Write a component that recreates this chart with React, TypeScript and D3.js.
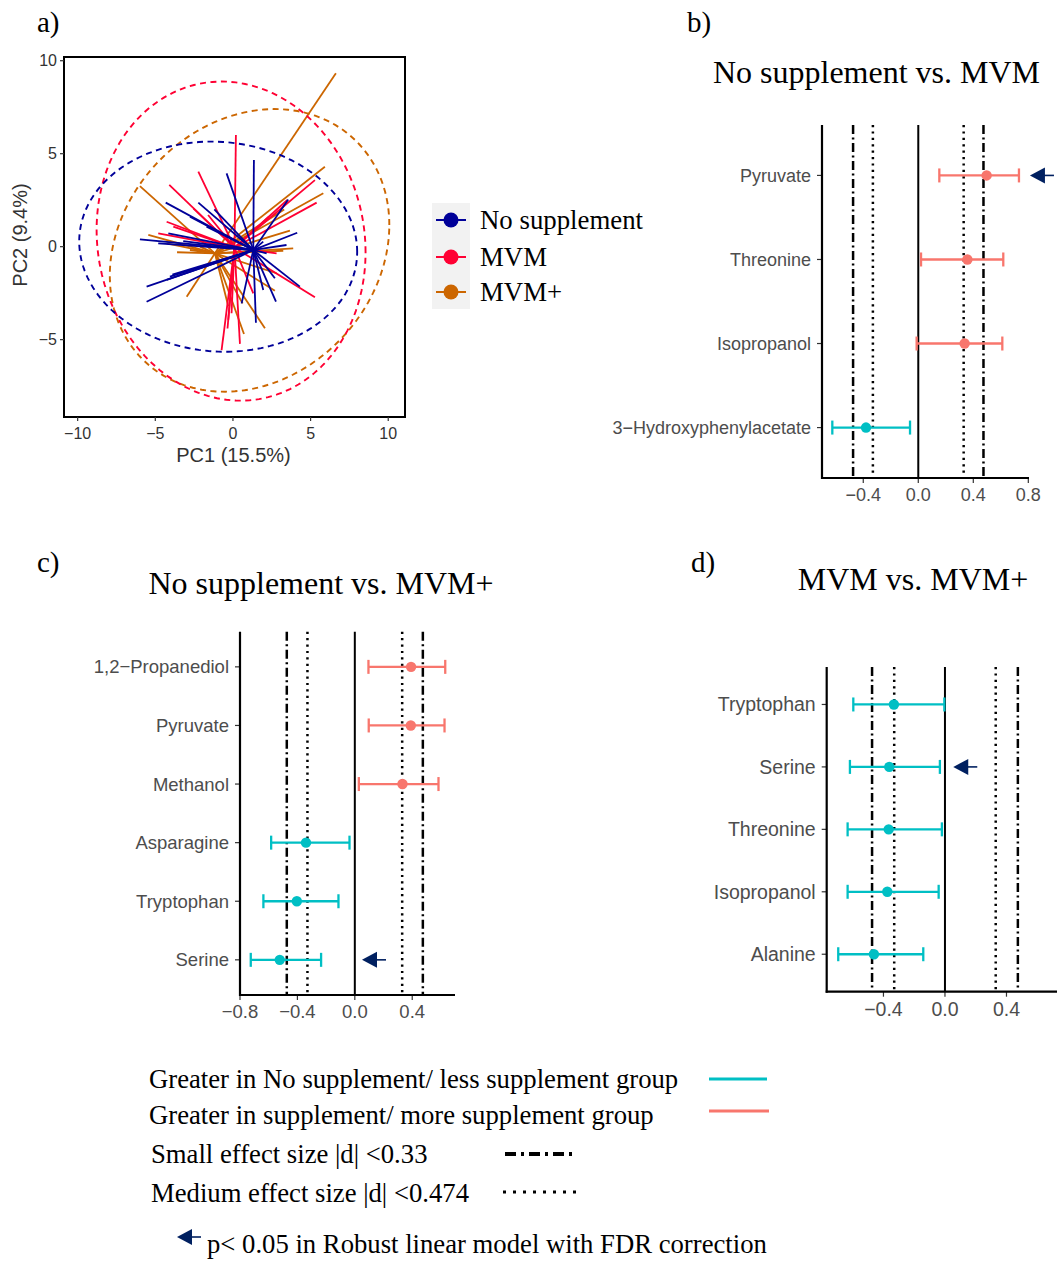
import React from "react";
import * as d3 from "d3";

const SANS = "'Liberation Sans', Arial, Helvetica, sans-serif";
const SERIF = "'Liberation Serif', 'Times New Roman', Times, serif";

// ---------- Panel a: PCA spider plot ----------
const pcaGroups = ["No supplement", "MVM", "MVM+"];
const pcaColors = ["#000099", "#ff0033", "#cc6600"];

const noSuppScores: [number, number][] = [
  [-5.99, 0.39], [-5.56, -2.15], [-5.56, -2.96], [-4.33, 2.37], [-2.23, 2.37],
  [-0.41, 3.94], [1.35, 4.66], [3.56, 2.54], [4.14, 0.75], [3.45, 0.09],
  [4.31, -2.15], [2.77, -2.96], [1.48, -4.09], [0.56, -3.05], [1.95, -2.33],
  [2.7, -1.7], [-4.06, -1.61], [-4.27, -1.79], [-4.81, 0.18], [-4.16, 0.72],
  [-2.77, 1.61], [-1.7, 1.08], [1.95, 0.27], [2.17, -0.36], [-3.9, -1.5],
  [-3.2, 0.3], [-1.2, 2.0],
];
const mvmScores: [number, number][] = [
  [0.19, 6.0], [-2.23, 4.03], [-4.1, 3.32], [-4.27, 1.34], [-2.55, 2.06],
  [5.28, 3.58], [5.39, 2.37], [3.5, 2.51], [5.28, -2.72], [-0.73, -5.56],
  [0.45, -5.23], [-0.3, -3.94], [-0.09, -3.58], [1.31, -2.51], [-4.81, 0.72],
  [-3.84, 1.08], [2.81, -0.36], [-0.35, -4.4], [2.3, 1.6], [-1.6, 1.7],
];
const mvmPlusScores: [number, number][] = [
  [6.63, 9.32], [5.92, 4.3], [5.82, 2.87], [-5.99, 3.26], [-5.45, 0.63],
  [-2.98, -2.69], [0.71, -4.7], [2.06, -4.39], [0.62, -3.05], [2.7, -2.37],
  [3.88, -0.09], [3.67, 0.86], [3.24, -0.22], [-2.77, -0.18], [-4.27, 0.18],
  [-2.12, 0.0], [2.81, -1.43], [3.3, 2.0], [-3.6, -0.3], [-0.3, -3.2],
];
const groupScores = [noSuppScores, mvmScores, mvmPlusScores];
const groupCentroids: [number, number][] = [[1.31, -0.18], [0.1, -0.05], [-1.16, -0.36]];

// confidence ellipses: centre, half-range in PC1, half-range in PC2, coupling cos
const ellipseCenters: [number, number][] = [[-0.95, 0.0], [-0.12, 0.3], [1.07, -0.2]];
const ellipseHalfPC1 = [8.95, 8.66, 9.0];
const ellipseHalfPC2 = [5.65, 8.58, 7.6];
const ellipseCoupling = [-0.05, -0.07, 0.18];

const pcaXTicks = [-10, -5, 0, 5, 10];
const pcaYTicks = [-5, 0, 5, 10];

// ---------- Panels b-d: effect sizes ----------
const smallEffect = 0.474; // dash-dot
const mediumEffect = 0.33; // dotted

const bCats = ["Pyruvate", "Threonine", "Isopropanol", "3\u2212Hydroxyphenylacetate"];
const bEst = [0.497, 0.357, 0.337, -0.38];
const bLow = [0.153, 0.02, -0.012, -0.625];
const bHigh = [0.732, 0.618, 0.611, -0.06];
const bSig = [true, false, false, false];
const bTicks = [-0.4, 0, 0.4, 0.8];

const cCats = ["1,2\u2212Propanediol", "Pyruvate", "Methanol", "Asparagine", "Tryptophan", "Serine"];
const cEst = [0.392, 0.39, 0.332, -0.34, -0.404, -0.523];
const cLow = [0.095, 0.097, 0.028, -0.583, -0.637, -0.725];
const cHigh = [0.63, 0.625, 0.583, -0.037, -0.114, -0.235];
const cSig = [false, false, false, false, false, true];
const cTicks = [-0.8, -0.4, 0, 0.4];

const dCats = ["Tryptophan", "Serine", "Threonine", "Isopropanol", "Alanine"];
const dEst = [-0.332, -0.362, -0.366, -0.375, -0.462];
const dLow = [-0.596, -0.618, -0.633, -0.633, -0.694];
const dHigh = [-0.004, -0.033, -0.02, -0.041, -0.141];
const dSig = [false, true, false, false, false];
const dTicks = [-0.4, 0, 0.4];

const POS_COL = "#F8766D";
const NEG_COL = "#00BFC4";
const ARROW_COL = "#002060";

const fmtTick = (v: number) => (v < 0 ? "\u2212" : "") + Math.abs(v).toFixed(1);

function SigArrow({ x, y }: { x: number; y: number }) {
  return (
    <g>
      <path d={`M${x},${y} L${x + 15},${y - 8} L${x + 15},${y + 8} Z`} fill={ARROW_COL} />
      <line x1={x + 12} x2={x + 24} y1={y} y2={y} stroke={ARROW_COL} strokeWidth={1.6} />
    </g>
  );
}

type ForestProps = {
  cats: string[];
  est: number[];
  low: number[];
  high: number[];
  sig: boolean[];
  arrowAt: number;
  domain: [number, number];
  xRange: [number, number];
  yRange: [number, number];
  ticks: number[];
  fontSize: number;
};

function ForestPanel(p: ForestProps) {
  const x = d3.scaleLinear().domain(p.domain).range(p.xRange);
  const y = d3.scalePoint<string>().domain(p.cats).range(p.yRange).padding(0.6);
  const [top, bottom] = p.yRange;
  const left = p.xRange[0];
  const refLines = [
    { v: -smallEffect, dash: "9,3.5,2,3.5" },
    { v: -mediumEffect, dash: "2.2,4.2" },
    { v: mediumEffect, dash: "2.2,4.2" },
    { v: smallEffect, dash: "9,3.5,2,3.5" },
  ];
  const capH = 7;
  return (
    <g>
      {refLines.map((r, i) => (
        <line key={i} x1={x(r.v)} x2={x(r.v)} y1={top} y2={bottom} stroke="#000" strokeWidth={2.5} strokeDasharray={r.dash} />
      ))}
      <line x1={x(0)} x2={x(0)} y1={top} y2={bottom} stroke="#000" strokeWidth={2} />
      {p.cats.map((c, i) => {
        const col = p.est[i] >= 0 ? POS_COL : NEG_COL;
        const cy = y(c) as number;
        return (
          <g key={c}>
            <line x1={x(p.low[i])} x2={x(p.high[i])} y1={cy} y2={cy} stroke={col} strokeWidth={2.3} />
            <line x1={x(p.low[i])} x2={x(p.low[i])} y1={cy - capH} y2={cy + capH} stroke={col} strokeWidth={2.3} />
            <line x1={x(p.high[i])} x2={x(p.high[i])} y1={cy - capH} y2={cy + capH} stroke={col} strokeWidth={2.3} />
            <circle cx={x(p.est[i])} cy={cy} r={5.2} fill={col} />
            {p.sig[i] && <SigArrow x={x(p.arrowAt)} y={cy} />}
            <line x1={left - 5} x2={left} y1={cy} y2={cy} stroke="#333" strokeWidth={1.2} />
            <text x={left - 11} y={cy} dy="0.35em" textAnchor="end" fontFamily={SANS} fontSize={p.fontSize} fill="#4d4d4d">
              {c}
            </text>
          </g>
        );
      })}
      {p.ticks.map((t) => (
        <g key={t}>
          <line x1={x(t)} x2={x(t)} y1={bottom} y2={bottom + 5} stroke="#333" strokeWidth={1.2} />
          <text x={x(t)} y={bottom + 17} dy="0.35em" textAnchor="middle" fontFamily={SANS} fontSize={p.fontSize} fill="#4d4d4d">
            {fmtTick(t)}
          </text>
        </g>
      ))}
      <line x1={left} x2={left} y1={top} y2={bottom + 1} stroke="#000" strokeWidth={2.2} />
      <line x1={left - 1} x2={p.xRange[1]} y1={bottom} y2={bottom} stroke="#000" strokeWidth={2.2} />
    </g>
  );
}

function PcaPanel() {
  const left = 64, right = 405, top = 57, bottom = 417;
  const x = d3.scaleLinear().domain([-10.88, 11.08]).range([left, right]);
  const y = d3.scaleLinear().domain([-9.16, 10.2]).range([bottom, top]);
  const ellipseLine = d3
    .line<[number, number]>()
    .x((d) => x(d[0]))
    .y((d) => y(d[1]))
    .curve(d3.curveLinearClosed);
  const ellipsePath = (g: number) => {
    const delta = Math.acos(ellipseCoupling[g]);
    const pts: [number, number][] = d3.range(0, 2 * Math.PI, Math.PI / 90).map((t) => [
      ellipseCenters[g][0] + ellipseHalfPC1[g] * Math.cos(t),
      ellipseCenters[g][1] + ellipseHalfPC2[g] * Math.cos(t - delta),
    ]);
    return ellipseLine(pts) || "";
  };
  const drawOrder = [2, 1, 0];
  return (
    <g>
      <defs>
        <clipPath id="pca-clip">
          <rect x={left} y={top} width={right - left} height={bottom - top} />
        </clipPath>
      </defs>
      <g clipPath="url(#pca-clip)">
        {drawOrder.map((g) => (
          <g key={g}>
            {groupScores[g].map((s, i) => (
              <line
                key={i}
                x1={x(s[0])}
                y1={y(s[1])}
                x2={x(groupCentroids[g][0])}
                y2={y(groupCentroids[g][1])}
                stroke={pcaColors[g]}
                strokeWidth={1.8}
              />
            ))}
          </g>
        ))}
        {drawOrder.map((g) => (
          <path key={"e" + g} d={ellipsePath(g)} fill="none" stroke={pcaColors[g]} strokeWidth={1.9} strokeDasharray="6,4.5" />
        ))}
      </g>
      <rect x={left} y={top} width={right - left} height={bottom - top} fill="none" stroke="#000" strokeWidth={2} />
      {pcaXTicks.map((t) => (
        <g key={t}>
          <line x1={x(t)} x2={x(t)} y1={bottom} y2={bottom + 4} stroke="#333" strokeWidth={1.2} />
          <text x={x(t)} y={bottom + 16} dy="0.35em" textAnchor="middle" fontFamily={SANS} fontSize={16} fill="#333">
            {t < 0 ? "\u2212" + Math.abs(t) : String(t)}
          </text>
        </g>
      ))}
      {pcaYTicks.map((t) => (
        <g key={t}>
          <line x1={left - 4} x2={left} y1={y(t)} y2={y(t)} stroke="#333" strokeWidth={1.2} />
          <text x={left - 7} y={y(t)} dy="0.35em" textAnchor="end" fontFamily={SANS} fontSize={16} fill="#333">
            {t < 0 ? "\u2212" + Math.abs(t) : String(t)}
          </text>
        </g>
      ))}
      <text x={(left + right) / 2 - 1} y={462} textAnchor="middle" fontFamily={SANS} fontSize={20} fill="#333">
        PC1 (15.5%)
      </text>
      <text transform={`translate(27,${(top + bottom) / 2 - 2}) rotate(-90)`} textAnchor="middle" fontFamily={SANS} fontSize={20} fill="#333">
        PC2 (9.4%)
      </text>
      {/* group legend */}
      <rect x={432} y={203} width={38} height={106} fill="#f2f2f2" />
      {pcaGroups.map((g, i) => {
        const ly = [220, 257, 292][i];
        return (
          <g key={g}>
            <line x1={436} x2={466} y1={ly} y2={ly} stroke={pcaColors[i]} strokeWidth={2} />
            <circle cx={451} cy={ly} r={7.5} fill={pcaColors[i]} />
            <text x={480} y={ly + 9} fontFamily={SERIF} fontSize={26.8} fill="#000">
              {g}
            </text>
          </g>
        );
      })}
    </g>
  );
}

export default function App() {
  const legendRows = [
    "Greater in No supplement/ less supplement group",
    "Greater in supplement/ more supplement group",
    "Small effect size |d| <0.33",
    "Medium effect size |d| <0.474",
  ];
  const legendFont = 26.7;
  return (
    <svg
      width={1057}
      height={1262}
      viewBox="0 0 1057 1262"
      style={{ position: "absolute", left: 0, top: 0, background: "#fff" }}
    >
      <rect width={1057} height={1262} fill="#fff" />
      {/* panel letters */}
      <text x={37} y={32} fontFamily={SERIF} fontSize={29}>a)</text>
      <text x={687} y={32} fontFamily={SERIF} fontSize={29}>b)</text>
      <text x={37} y={572} fontFamily={SERIF} fontSize={29}>c)</text>
      <text x={691} y={572} fontFamily={SERIF} fontSize={29}>d)</text>

      <PcaPanel />

      <text x={876.5} y={83} textAnchor="middle" fontFamily={SERIF} fontSize={32}>No supplement vs. MVM</text>
      <ForestPanel
        cats={bCats} est={bEst} low={bLow} high={bHigh} sig={bSig} arrowAt={0.812}
        domain={[-0.7, 0.805]} xRange={[822, 1029]} yRange={[125, 478]} ticks={bTicks} fontSize={18}
      />

      <text x={321} y={594} textAnchor="middle" fontFamily={SERIF} fontSize={32}>No supplement vs. MVM+</text>
      <ForestPanel
        cats={cCats} est={cEst} low={cLow} high={cHigh} sig={cSig} arrowAt={0.05}
        domain={[-0.8, 0.698]} xRange={[240, 455]} yRange={[631.7, 995]} ticks={cTicks} fontSize={18.5}
      />

      <text x={913} y={590} textAnchor="middle" fontFamily={SERIF} fontSize={32}>MVM vs. MVM+</text>
      <ForestPanel
        cats={dCats} est={dEst} low={dLow} high={dHigh} sig={dSig} arrowAt={0.054}
        domain={[-0.769, 0.748]} xRange={[826.7, 1060]} yRange={[667, 991.7]} ticks={dTicks} fontSize={19.5}
      />

      {/* figure legend */}
      <text x={149} y={1088} fontFamily={SERIF} fontSize={legendFont}>{legendRows[0]}</text>
      <line x1={709} x2={767} y1={1079} y2={1079} stroke={NEG_COL} strokeWidth={3} />
      <text x={149} y={1124} fontFamily={SERIF} fontSize={legendFont}>{legendRows[1]}</text>
      <line x1={709} x2={769} y1={1111} y2={1111} stroke={POS_COL} strokeWidth={3} />
      <text x={151} y={1163} fontFamily={SERIF} fontSize={legendFont}>{legendRows[2]}</text>
      <line x1={505} x2={577} y1={1154} y2={1154} stroke="#000" strokeWidth={4} strokeDasharray="11,5,3,5" />
      <text x={151} y={1202} fontFamily={SERIF} fontSize={legendFont}>{legendRows[3]}</text>
      <line x1={503} x2={576} y1={1192} y2={1192} stroke="#000" strokeWidth={3} strokeDasharray="3,7" />
      <SigArrow x={177} y={1237} />
      <text x={207} y={1253} fontFamily={SERIF} fontSize={legendFont}>p&lt; 0.05 in Robust linear model with FDR correction</text>
    </svg>
  );
}
